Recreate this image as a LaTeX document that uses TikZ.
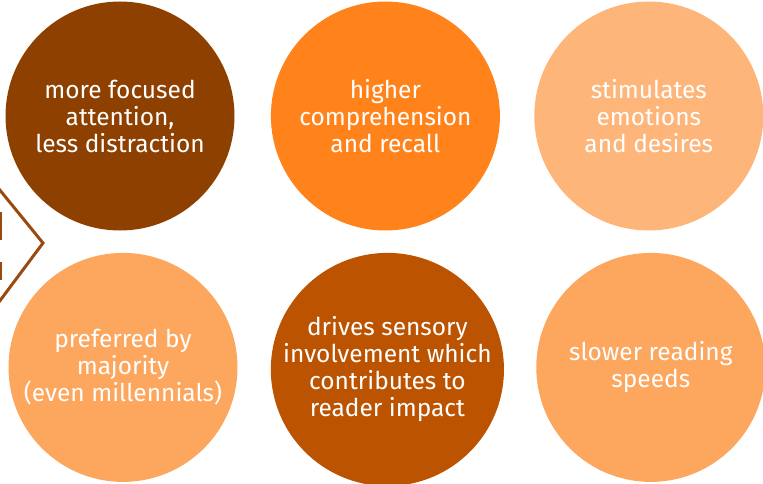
\documentclass[tikz,border=0pt]{standalone}
\usepackage{fontspec}
\setmainfont{Fira Sans}
\usepackage{tikz}
\usetikzlibrary{positioning}
\definecolor{rust}{HTML}{8E4000}
\definecolor{tangerine}{HTML}{FF831A}
\definecolor{peach}{HTML}{FDB57A}
\definecolor{apricot}{HTML}{FCA65E}
\definecolor{burnt}{HTML}{BB5300}
\definecolor{chevcol}{HTML}{9A4A10}
\tikzstyle{bubble} = [circle, minimum size=229pt, inner sep=0pt, align=center, text=white, font=\fontsize{24.5}{27}\selectfont]
\tikzstyle{chev} = [line width=3pt, chevcol, line join=miter]

\begin{document}
\begin{tikzpicture}[x=1pt,y=1pt]
        \useasboundingbox (0,0) rectangle (763,483);
        % top row
        \node[bubble, fill=rust] (focus) at (120,367) {more focused\\attention,\\less distraction};
        \node[bubble, fill=tangerine, right=36pt of focus] (recall) {higher\\comprehension\\and recall};
        \node[bubble, fill=peach, right=34pt of recall] (emotion) {stimulates\\emotions\\and desires};
        % bottom row
        \node[bubble, fill=apricot, below=22pt of focus, xshift=3pt] (prefer) {preferred by\\majority\\(even millennials)};
        \node[bubble, fill=burnt, below=22pt of recall, xshift=2pt] (sensory) {drives sensory\\involvement which\\contributes to\\reader impact};
        \node[bubble, fill=apricot, below=22pt of emotion, xshift=2pt] (speed) {slower reading\\speeds};

        % chevron at the left edge
        \coordinate (chev-top) at (-1,294);
        \coordinate (chev-tip) at (43,240);
        \coordinate (chev-bot) at (-1,181);
        \draw[chev] (chev-top) -- (chev-tip) -- (chev-bot);
        \fill[chevcol] (0,243) rectangle (2,271);
        \fill[chevcol] (0,203) rectangle (2,221);
    \end{tikzpicture}
\end{document}
